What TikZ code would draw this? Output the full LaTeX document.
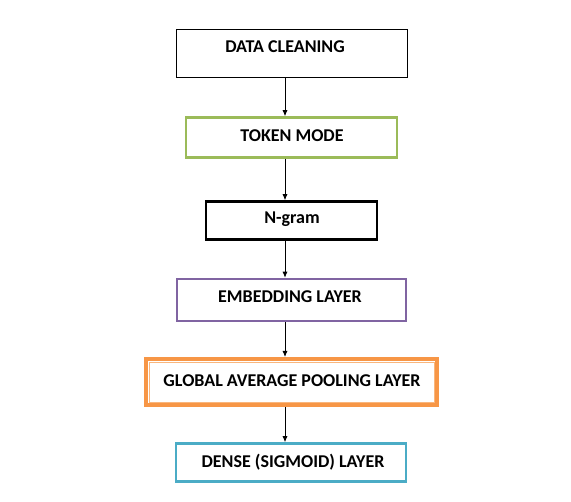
\documentclass[tikz,border=0pt]{standalone}
\usepackage{fontspec}
\setmainfont{Carlito}
\usetikzlibrary{arrows.meta,calc}
\definecolor{cgreen}{HTML}{9BBB59}
\definecolor{cpurple}{HTML}{8064A2}
\definecolor{corange}{HTML}{F79646}
\definecolor{cblue}{HTML}{4BACC6}
\tikzset{
  box/.style={draw, rectangle, inner sep=0pt, fill=white},
  lbl/.style={font=\bfseries\fontsize{18}{20}\selectfont, inner sep=0pt},
  arr/.style={-{Latex[length=6pt,width=5pt]}, line width=0.8pt},
}
\begin{document}
\begin{tikzpicture}[x=1pt,y=-1pt]
\useasboundingbox (0,0) rectangle (571,502);
\coordinate (ax) at (285,0);
% boxes
\node[box, line width=0.8pt, minimum width=231pt, minimum height=48pt] (b1) at (291.5,53) {};
\node[lbl] (t1) at (285,47) {DATA CLEANING};
\node[box, draw=cgreen, line width=2.5pt, minimum width=211pt, minimum height=40pt] (b2) at (291.5,137.5) {};
\node[lbl] (t2) at (292,136) {TOKEN MODE};
\node[box, line width=2.5pt, minimum width=171pt, minimum height=38pt] (b3) at (291.5,220.5) {};
\node[lbl] (t3) at (292,219) {N-gram};
\node[box, draw=cpurple, line width=2.5pt, minimum width=229pt, minimum height=42pt] (b4) at (291.5,300) {};
\node[lbl] (t4) at (290,297) {EMBEDDING LAYER};
\node[box, draw=corange, line width=4pt, minimum width=291pt, minimum height=46pt] (b5) at (291.5,382) {};
\draw[corange!70, line width=0.8pt] ($(b5.north west)+(5,5)$) rectangle ($(b5.south east)+(-5,-5)$);
\node[lbl] (t5) at (292,381) {GLOBAL AVERAGE POOLING LAYER};
\node[box, draw=cblue, line width=2.5pt, minimum width=230pt, minimum height=38pt] (b6) at (291,462.5) {};
\node[lbl] (t6) at (293,462) {DENSE (SIGMOID) LAYER};
% arrows
\draw[arr] (b1.south -| ax) -- (b2.north -| ax);
\draw[arr] (b2.south -| ax) -- (b3.north -| ax);
\draw[arr] (b3.south -| ax) -- (b4.north -| ax);
\draw[arr] (b4.south -| ax) -- (b5.north -| ax);
\draw[arr] (b5.south -| ax) -- (b6.north -| ax);
\end{tikzpicture}
\end{document}
